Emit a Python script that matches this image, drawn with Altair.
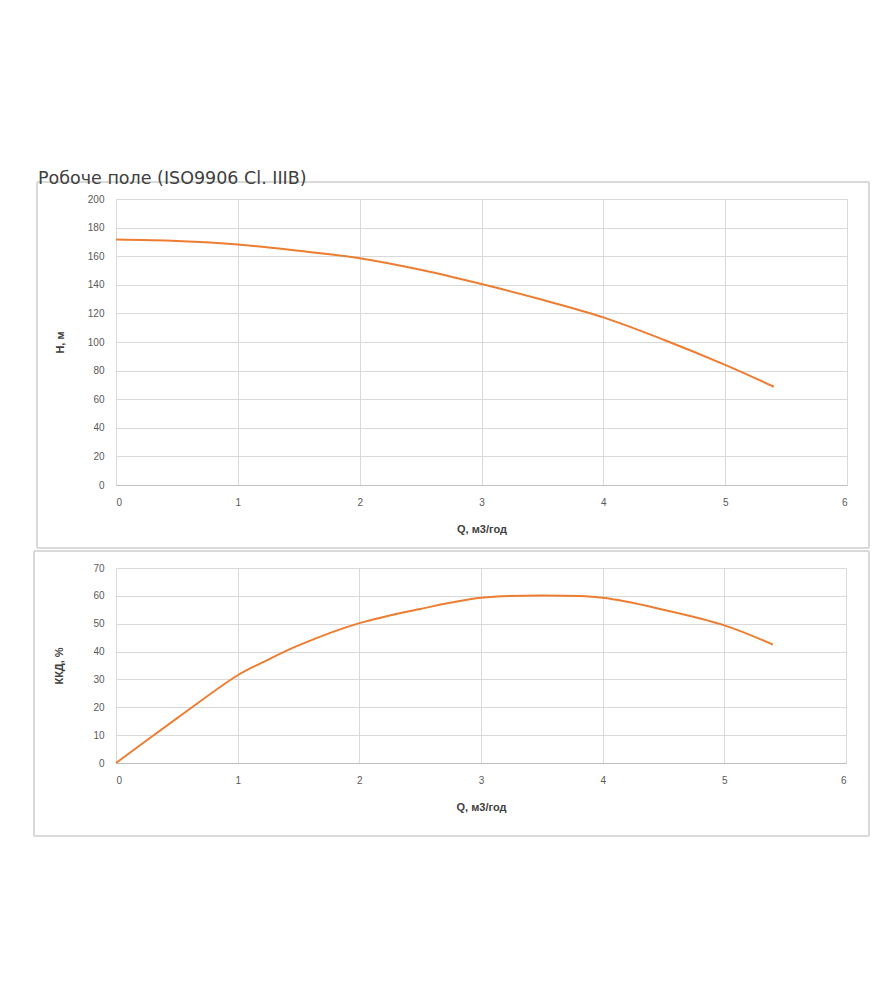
import altair as alt
import pandas as pd

# Head curve
q_h = [0, 0.5, 1, 1.5, 2, 2.5, 3, 3.5, 4, 4.5, 5, 5.4]
head = [171.6, 170.6, 168.2, 163.8, 158.6, 150.5, 140.5, 129.5, 117.2, 101.4, 84.0, 68.7]

# Efficiency curve
q_e = [0, 0.5, 1, 1.2, 1.5, 2, 2.5, 3, 3.5, 4, 4.5, 5, 5.4]
eff = [0, 16.0, 31.5, 36.0, 42.2, 50.2, 55.3, 59.3, 60.1, 59.3, 55.0, 49.4, 42.5]

title_text = "Робоче поле (ISO9906 Cl. IIIB)"
x_title = "Q, м3/год"
y1_title = "H, м"
y2_title = "ККД, %"

ORANGE = "#ED7D31"
GRID = "#d9d9d9"
LABEL = "#595959"
FONT = "Liberation Sans"

df_h = pd.DataFrame({"Q": q_h, "H": head})
df_e = pd.DataFrame({"Q": q_e, "E": eff})


def xaxis():
    return alt.Axis(values=[0, 1, 2, 3, 4, 5, 6], title=x_title, grid=True,
                    gridColor=GRID, domainColor="#bfbfbf", ticks=False,
                    labelColor=LABEL, labelFont=FONT, labelFontSize=10,
                    labelPadding=12, titleFont=FONT,
                    titleFontSize=11, titleFontWeight="bold", titleColor="#404040",
                    titlePadding=16)


def yaxis(title, vals, pad, tpad):
    return alt.Axis(values=vals, title=title, grid=True, gridColor=GRID,
                    domain=False, ticks=False, labelColor=LABEL,
                    labelFont=FONT, labelFontSize=10, labelPadding=pad,
                    titleFont=FONT, titleFontSize=11,
                    titleFontWeight="bold", titleColor="#404040", titlePadding=tpad)


# ---------- top chart ----------
W1, H1 = 731, 286
box1 = alt.Chart(df_h).mark_rect(fillOpacity=0, stroke=GRID, strokeWidth=1, clip=False).encode(
    x=alt.value(-79), x2=alt.value(753), y=alt.value(-17), y2=alt.value(349)
)
ttl = alt.Chart(pd.DataFrame({"t": [title_text]})).mark_text(
    align="left", baseline="alphabetic", font="DejaVu Sans", fontSize=17.5,
    color="#404040", clip=False
).encode(x=alt.value(-78), y=alt.value(-15), text="t:N")
line1 = alt.Chart(df_h).mark_line(color=ORANGE, strokeWidth=2, interpolate="catmull-rom").encode(
    x=alt.X("Q:Q", scale=alt.Scale(domain=[0, 6], nice=False), axis=xaxis()),
    y=alt.Y("H:Q", scale=alt.Scale(domain=[0, 200], nice=False),
            axis=yaxis(y1_title, list(range(0, 201, 20)), 12, 22)),
)
top = alt.layer(box1, ttl, line1).properties(width=W1, height=H1)

# ---------- bottom chart ----------
W2, H2 = 730, 195
box2 = alt.Chart(df_e).mark_rect(fillOpacity=0, stroke=GRID, strokeWidth=1, clip=False).encode(
    x=alt.value(-82), x2=alt.value(753), y=alt.value(-17), y2=alt.value(268)
)
line2 = alt.Chart(df_e).mark_line(color=ORANGE, strokeWidth=2, interpolate="catmull-rom").encode(
    x=alt.X("Q:Q", scale=alt.Scale(domain=[0, 6], nice=False), axis=xaxis()),
    y=alt.Y("E:Q", scale=alt.Scale(domain=[0, 70], nice=False),
            axis=yaxis(y2_title, list(range(0, 71, 10)), 12, 28)),
)
bottom = alt.layer(box2, line2).properties(width=W2, height=H2)

chart = alt.vconcat(top, bottom, spacing=1).properties(
    padding={"left": 25, "top": 162, "right": 5, "bottom": 5}
).configure_view(stroke=None)

chart.save("out.html", embed_options={"renderer": "svg", "actions": False})
